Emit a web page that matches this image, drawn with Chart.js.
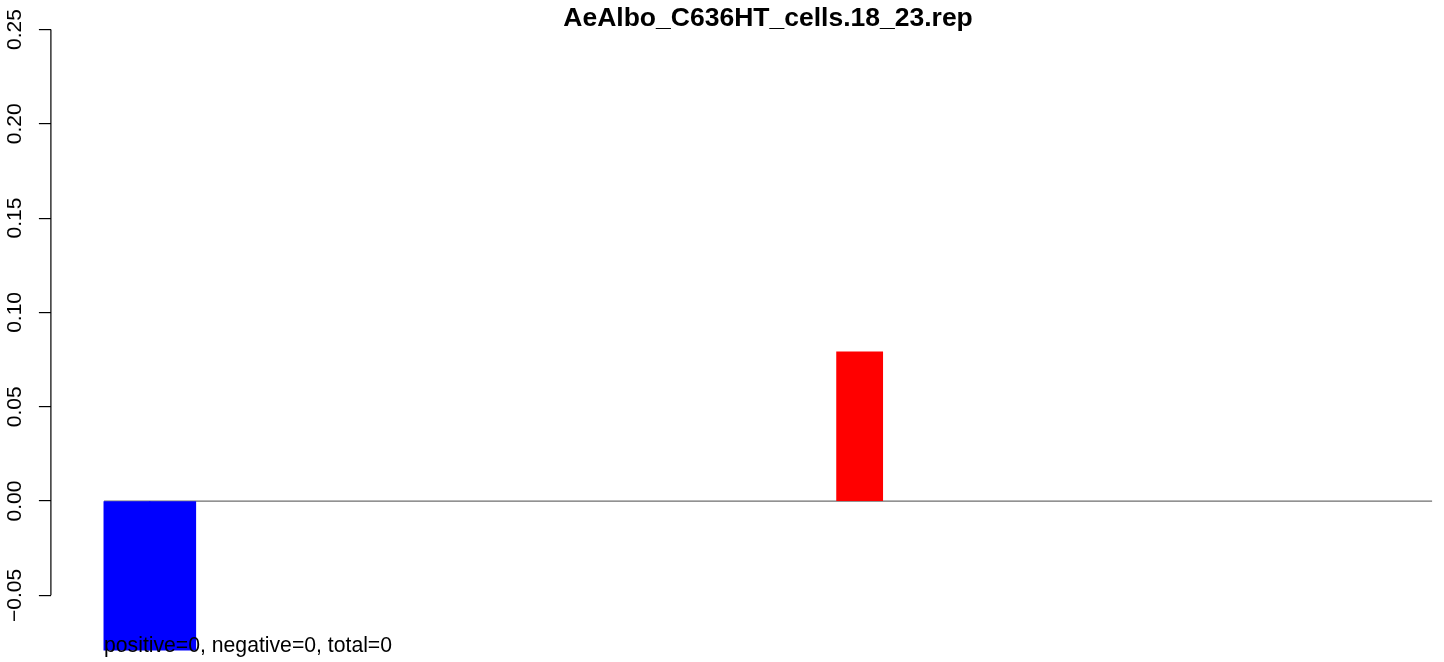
<!DOCTYPE html>
<html>
<head>
  <meta charset="UTF-8" />
  <title>AeAlbo_C636HT_cells.18_23.rep</title>
  <script src="https://cdn.jsdelivr.net/npm/chart.js"></script>
  <style>
    html, body {
      margin: 0;
      padding: 0;
      background: white;
      overflow: hidden;
    }
    canvas {
      display: block;
    }
  </style>
</head>
<body>
  <canvas id="repChart" width="1444" height="662"></canvas>
  <script>
    const chartTitle = 'AeAlbo_C636HT_cells.18_23.rep';
    const footNote = 'positive=0, negative=0, total=0';

    // one bar per bin, bins are 1 unit wide and touch each other
    const binCenters = [0.5, 1.5, 2.5, 3.5, 4.5, 5.5, 6.5, 7.5, 8.5, 9.5,
                        10.5, 11.5, 12.5, 13.5, 14.5, 15.5, 16.5, 17.5, 18.5, 19.5,
                        20.5, 21.5, 22.5, 23.5, 24.5, 25.5, 26.5, 27.5, 28.5];
    const binValues = [-0.079, -0.079, 0, 0, 0, 0, 0, 0, 0, 0,
                       0, 0, 0, 0, 0, 0, 0.079, 0, 0, 0,
                       0, 0, 0, 0, 0, 0, 0, 0, 0];
    const yTicks = [-0.05, 0, 0.05, 0.10, 0.15, 0.20, 0.25];

    const firstEdge = binCenters[0] - 0.5;
    const lastEdge = binCenters[binCenters.length - 1] + 0.5;
    const baseline = [{ x: firstEdge, y: 0 }, { x: lastEdge, y: 0 }];

    const fontFamily = '"Liberation Sans", Arial, Helvetica, sans-serif';

    // R style axis line (only between first and last tick), title and footnote
    const rDecor = {
      id: 'rDecor',
      afterDraw(chart) {
        const ctx = chart.ctx;
        const x = chart.scales.x;
        const y = chart.scales.y;
        ctx.save();
        ctx.strokeStyle = '#000';
        ctx.lineWidth = 1.2;
        ctx.beginPath();
        ctx.moveTo(chart.chartArea.left, y.getPixelForValue(yTicks[0]));
        ctx.lineTo(chart.chartArea.left, y.getPixelForValue(yTicks[yTicks.length - 1]));
        ctx.stroke();

        ctx.fillStyle = '#000';
        ctx.textBaseline = 'alphabetic';
        ctx.font = 'bold 26.5px ' + fontFamily;
        ctx.textAlign = 'center';
        ctx.fillText(chartTitle, x.getPixelForValue((firstEdge + lastEdge) / 2), 26);

        ctx.font = '21.2px ' + fontFamily;
        ctx.textAlign = 'left';
        ctx.fillText(footNote, x.getPixelForValue(firstEdge), 652);
        ctx.restore();
      }
    };

    new Chart(document.getElementById('repChart'), {
      type: 'bar',
      data: {
        datasets: [{
          type: 'line',
          data: baseline,
          borderColor: '#6e6e6e',
          borderWidth: 1.2,
          pointRadius: 0,
          fill: false,
          order: 2
        }, {
          data: binCenters.map((c, i) => ({ x: c, y: binValues[i] })),
          backgroundColor: ctx => (ctx.raw && ctx.raw.y < 0) ? '#0000ff' : '#ff0000',
          borderWidth: 0,
          // inflate only real bars so neighbours join without a seam
          inflateAmount: ctx => (ctx.raw && ctx.raw.y !== 0) ? 0.5 : 0,
          barPercentage: 1,
          categoryPercentage: 1,
          order: 1
        }]
      },
      options: {
        responsive: false,
        animation: false,
        layout: { padding: { top: 4.6, bottom: 11, left: 0, right: 0 } },
        plugins: {
          legend: { display: false },
          title: { display: false },
          tooltip: { enabled: false }
        },
        scales: {
          x: {
            type: 'linear',
            display: false,
            offset: false,
            min: -1.16,
            max: 29.26
          },
          y: {
            min: -0.0795,
            max: 0.2632,
            afterBuildTicks: scale => { scale.ticks = yTicks.map(v => ({ value: v })); },
            afterFit: scale => {
              scale.width = 50.9;
              scale.paddingTop = 0;
              scale.paddingBottom = 0;
            },
            border: { display: false },
            grid: {
              drawOnChartArea: false,
              drawTicks: true,
              tickLength: 12,
              color: '#000',
              lineWidth: 1.2
            },
            ticks: {
              minRotation: 90,
              maxRotation: 90,
              crossAlign: 'center',
              padding: -3,
              color: '#000',
              font: { family: fontFamily, size: 21 },
              callback: v => (v < 0 ? '\u2212' : '') + Math.abs(v).toFixed(2)
            }
          }
        }
      },
      plugins: [rDecor]
    });
  </script>
</body>
</html>
